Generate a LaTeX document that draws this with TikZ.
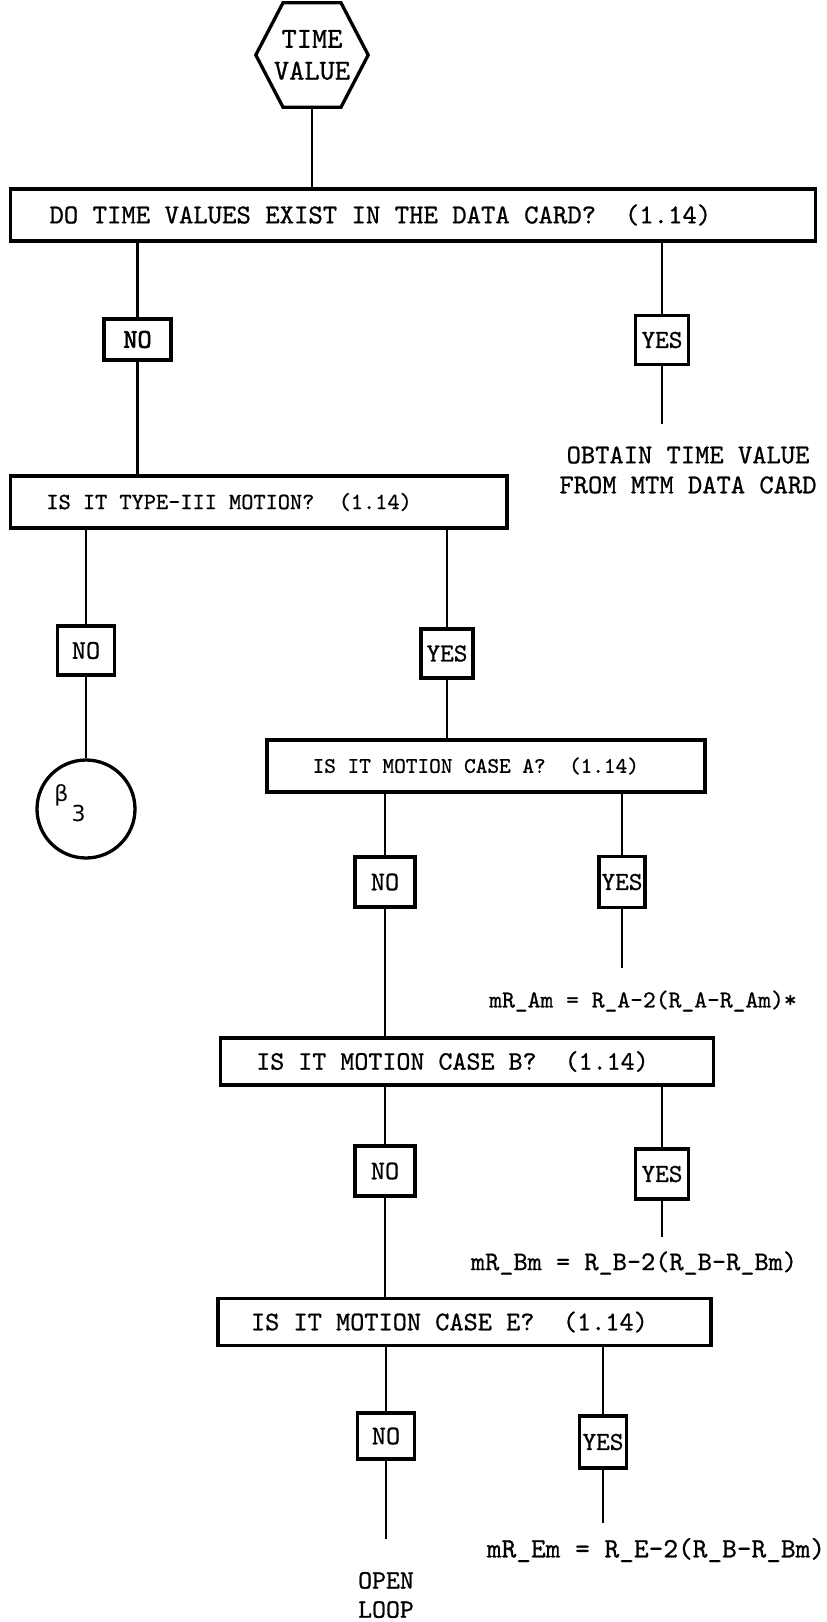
\documentclass[tikz,border=0pt]{standalone}
\usepackage{fontspec}
\newfontfamily\greekfont{DejaVu Sans}
\newfontfamily\typewriter{lmmono10-regular.otf}[FakeBold=0.8]
\newfontfamily\typewriterheavy{lmmono10-regular.otf}[FakeBold=2.5]
\newcommand\typesz[1]{\typewriter\fontsize{#1}{\dimexpr #1pt*11/10\relax}\selectfont}
\newcommand\typeheavy[1]{\typewriterheavy\fontsize{#1}{\dimexpr #1pt*11/10\relax}\selectfont}
\begin{document}
\begin{tikzpicture}[x=1pt,y=-1pt,
  qbox/.style={draw, line width=3.3pt, rectangle, align=flush left, inner ysep=0pt},
  ans/.style={draw, line width=3.1pt, rectangle, inner sep=0pt},
  result/.style={inner sep=0pt, align=center},
  link/.style={line width=2.9pt}]
\useasboundingbox (0,0) rectangle (827,1622);

% start symbol
\node[minimum width=112pt, minimum height=104pt, inner sep=0pt, align=center,
      font=\typesz{29}] (tv) at (312,55) {TIME\\VALUE};
\draw[line width=3.3pt, line join=miter]
  (tv.west) -- ([xshift=-29pt]tv.north) -- ([xshift=29pt]tv.north)
  -- (tv.east) -- ([xshift=29pt]tv.south) -- ([xshift=-29pt]tv.south) -- cycle;

% first question
\node[qbox, text width=727pt, inner xsep=39pt, minimum height=52pt, font=\typesz{27.4}]
  (q1) at (413,215) {\mbox{DO TIME VALUES EXIST IN THE DATA CARD?~~(1.14)}};
\draw[link] (tv.south) -- (tv.south |- q1.north);

\node[ans, minimum width=67pt, minimum height=41pt, font=\typeheavy{27}] (no1) at (137.5,339.5) {NO};
\node[ans, minimum width=53pt, minimum height=49pt, font=\typesz{26}] (yes1) at (662,340) {YES};
\draw[link] (q1.south -| no1) -- (no1.north);
\draw[link] (q1.south -| yes1) -- (yes1.north);
\node[result, font=\typesz{27.2}] (r1) at (688,470)
  {OBTAIN TIME VALUE\\FROM MTM DATA CARD};
\coordinate (e1) at (662,424);
\draw[link] (yes1.south) -- (e1);

% second question
\node[qbox, text width=424.6pt, inner xsep=36pt, minimum height=52pt, font=\typesz{23.2}]
  (q2) at (258.7,502) {\mbox{IS IT TYPE-III MOTION?~~(1.14)}};
\draw[link] (no1.south) -- (no1.south |- q2.north);

\node[ans, minimum width=57pt, minimum height=49pt, font=\typesz{27}] (no2) at (86,650.5) {NO};
\node[ans, minimum width=52pt, minimum height=49pt, font=\typesz{26}] (yes2) at (447,653.5) {YES};
\draw[link] (q2.south -| no2) -- (no2.north);
\draw[link] (q2.south -| yes2) -- (yes2.north);

\node[draw, circle, line width=3.3pt, minimum size=98pt, inner sep=0pt,
      label={[font=\greekfont\fontsize{22}{22}\selectfont, xshift=-16pt, yshift=6pt]center:{β\hspace{3pt}\raisebox{-20pt}{3}}}]
  (b3) at (86,809) {};
\draw[link] (no2.south) -- (b3.north);

% case A
\node[qbox, text width=346.8pt, inner xsep=45.6pt, minimum height=52pt, font=\typesz{22.2}]
  (q3) at (486,766) {\mbox{IS IT MOTION CASE A?~~(1.14)}};
\draw[link] (yes2.south) -- (yes2.south |- q3.north);

\node[ans, minimum width=60pt, minimum height=50pt, font=\typesz{27}] (no3) at (385,882) {NO};
\node[ans, minimum width=46pt, minimum height=51pt, font=\typesz{26}] (yes3) at (622,882) {YES};
\draw[link] (q3.south -| no3) -- (no3.north);
\draw[link] (q3.south -| yes3) -- (yes3.north);
\coordinate (e3) at (622,968);
\draw[link] (yes3.south) -- (e3);
\node[result, font=\typesz{24.4}] (r3) at (643,1001) {mR\_Am = R\_A-2(R\_A-R\_Am)*};

% case B
\node[qbox, text width=421.5pt, inner xsep=36pt, minimum height=47pt, font=\typesz{26.7}]
  (q4) at (467,1061.5) {\mbox{IS IT MOTION CASE B?~~(1.14)}};
\draw[link] (no3.south) -- (no3.south |- q4.north);

\node[ans, minimum width=60pt, minimum height=50pt, font=\typesz{27}] (no4) at (385,1171) {NO};
\node[ans, minimum width=53pt, minimum height=50pt, font=\typesz{26}] (yes4) at (662,1174) {YES};
\draw[link] (q4.south -| no4) -- (no4.north);
\draw[link] (q4.south -| yes4) -- (yes4.north);
\coordinate (e4) at (662,1237);
\draw[link] (yes4.south) -- (e4);
\node[result, font=\typesz{27}] (r4) at (634,1263) {mR\_Bm = R\_B-2(R\_B-R\_Bm)};

% case E
\node[qbox, text width=427pt, inner xsep=33pt, minimum height=47pt, font=\typesz{27}]
  (q5) at (464.5,1322) {\mbox{IS IT MOTION CASE E?~~(1.14)}};
\draw[link] (no4.south) -- (no4.south |- q5.north);

\node[ans, minimum width=57pt, minimum height=46pt, font=\typesz{27}] (no5) at (386,1436) {NO};
\node[ans, minimum width=47pt, minimum height=52pt, font=\typesz{26}] (yes5) at (603,1442) {YES};
\draw[link] (q5.south -| no5) -- (no5.north);
\draw[link] (q5.south -| yes5) -- (yes5.north);
\coordinate (e5a) at (386,1539);
\draw[link] (no5.south) -- (e5a);
\node[result, font=\typesz{26.5}] (r5a) at (386,1595) {OPEN\\LOOP};
\coordinate (e5b) at (603,1523);
\draw[link] (yes5.south) -- (e5b);
\node[result, font=\typesz{28}] (r5b) at (656,1550) {mR\_Em = R\_E-2(R\_B-R\_Bm)};
\end{tikzpicture}
\end{document}
